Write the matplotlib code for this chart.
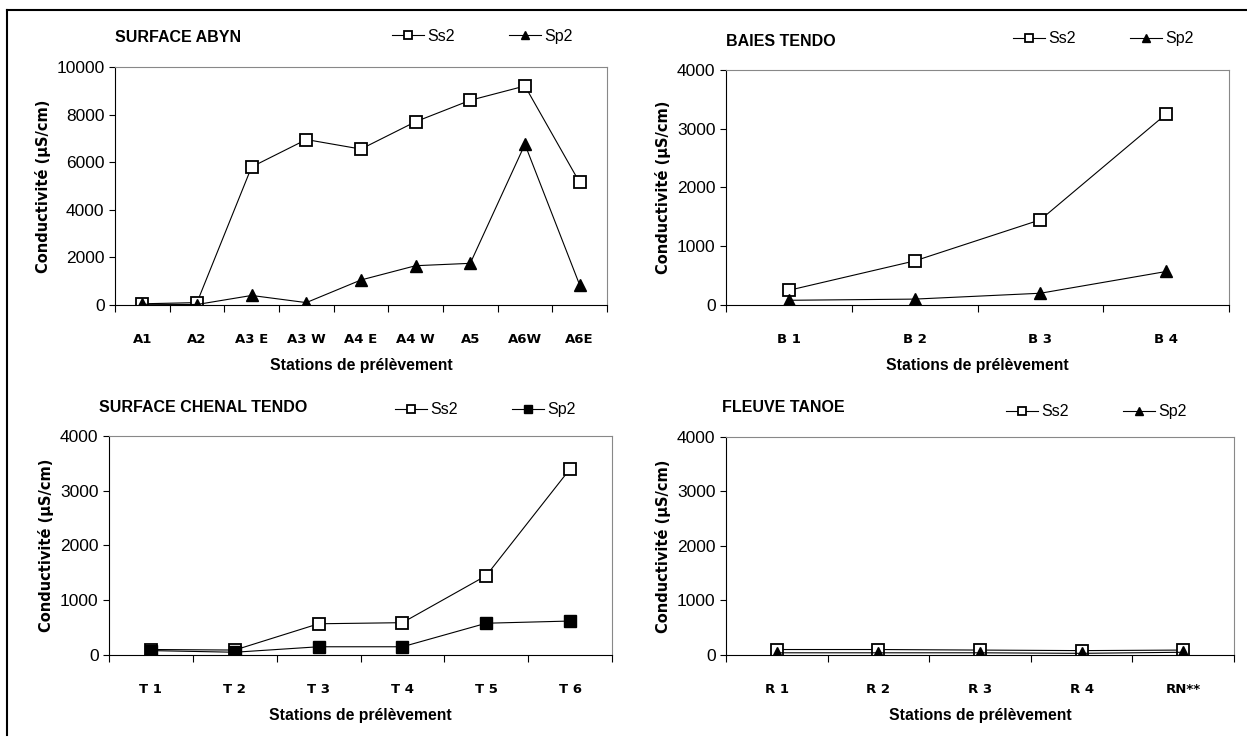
import matplotlib
matplotlib.use("Agg")
from matplotlib import pyplot as plt
from matplotlib.lines import Line2D

plt.rcParams['font.family'] = ['Liberation Sans', 'DejaVu Sans']

# stations and conductivity values (uS/cm)
abyn_stations = ["A1", "A2", "A3 E", "A3 W", "A4 E", "A4 W", "A5", "A6W", "A6E"]
abyn_ss2 = [50, 100, 5800, 6950, 6550, 7700, 8600, 9200, 5150]
abyn_sp2 = [30, 20, 400, 100, 1050, 1650, 1750, 6750, 850]

baies_stations = ["B 1", "B 2", "B 3", "B 4"]
baies_ss2 = [250, 750, 1450, 3250]
baies_sp2 = [80, 100, 200, 570]

chenal_stations = ["T 1", "T 2", "T 3", "T 4", "T 5", "T 6"]
chenal_ss2 = [100, 90, 570, 590, 1450, 3400]
chenal_sp2 = [80, 50, 150, 150, 580, 620]

tanoe_stations = ["R 1", "R 2", "R 3", "R 4", "RN**"]
tanoe_ss2 = [100, 100, 90, 80, 90]
tanoe_sp2 = [40, 40, 40, 30, 50]

fig = plt.figure(figsize=(12.47, 7.39), dpi=100)

# rough page border (left and top only, as scanned)
fig.add_artist(Line2D([0.006, 0.006], [0.005, 0.986], color='black', lw=1.5))
fig.add_artist(Line2D([0.006, 1.0], [0.986, 0.986], color='black', lw=1.5))


def panel(rect, title, stations, ss2, sp2, ymax, ystep, sp2_marker,
          title_xy, legend_xy):
    ax = fig.add_axes(rect)
    x = list(range(len(stations)))
    ax.plot(x, ss2, color='black', lw=0.8, marker='s', markersize=8.5,
            markerfacecolor='white', markeredgecolor='black',
            markeredgewidth=1.3, label='Ss2')
    ax.plot(x, sp2, color='black', lw=0.8, marker=sp2_marker, markersize=8.5,
            markerfacecolor='black', markeredgecolor='black', label='Sp2')
    ax.set_xlim(-0.5, len(stations) - 0.5)
    ax.set_ylim(0, ymax)
    ax.set_yticks(range(0, ymax + 1, ystep))
    ax.tick_params(axis='y', labelsize=12.5, direction='out', length=4)
    # category boundaries as tick marks, labels centred
    ax.set_xticks([i - 0.5 for i in range(len(stations) + 1)])
    ax.set_xticklabels([])
    ax.set_xticks(x, minor=True)
    ax.set_xticklabels(stations, minor=True, fontsize=9.5, fontweight='bold',
                       family='DejaVu Sans')
    ax.tick_params(axis='x', which='major', direction='out', length=5)
    ax.tick_params(axis='x', which='minor', length=0, pad=20)
    for s in ['top', 'right']:
        ax.spines[s].set_color('#888888')
        ax.spines[s].set_linewidth(0.8)
    ax.set_ylabel("Conductivité (µS/cm)", fontsize=10.5, fontweight='bold',
                  family='DejaVu Sans')
    ax.set_xlabel("Stations de prélèvement", fontsize=11.3, fontweight='bold',
                  labelpad=9)
    ax.text(title_xy[0], title_xy[1], title, transform=ax.transAxes,
            fontsize=11.5, fontweight='bold', va='center', ha='left')
    ax.legend(loc='center right', bbox_to_anchor=legend_xy, ncol=2,
              frameon=False, fontsize=11.5, columnspacing=3.4,
              handlelength=2.0, handletextpad=0.2, markerscale=0.7)
    return ax


panel([0.0922, 0.5873, 0.3945, 0.3221], "SURFACE ABYN", abyn_stations,
      abyn_ss2, abyn_sp2, 10000, 2000, '^', (0.0, 1.122), (0.96, 1.13))
panel([0.5822, 0.5873, 0.4034, 0.318], "BAIES TENDO", baies_stations,
      baies_ss2, baies_sp2, 4000, 1000, '^', (0.0, 1.123), (0.958, 1.132))
panel([0.0874, 0.1137, 0.4034, 0.2963], "SURFACE CHENAL TENDO",
      chenal_stations, chenal_ss2, chenal_sp2, 4000, 1000, 's',
      (-0.02, 1.13), (0.956, 1.12))
panel([0.5822, 0.1137, 0.4074, 0.295], "FLEUVE TANOE", tanoe_stations,
      tanoe_ss2, tanoe_sp2, 4000, 1000, '^', (-0.008, 1.133), (0.935, 1.115))

plt.savefig("out.png", dpi=100)
